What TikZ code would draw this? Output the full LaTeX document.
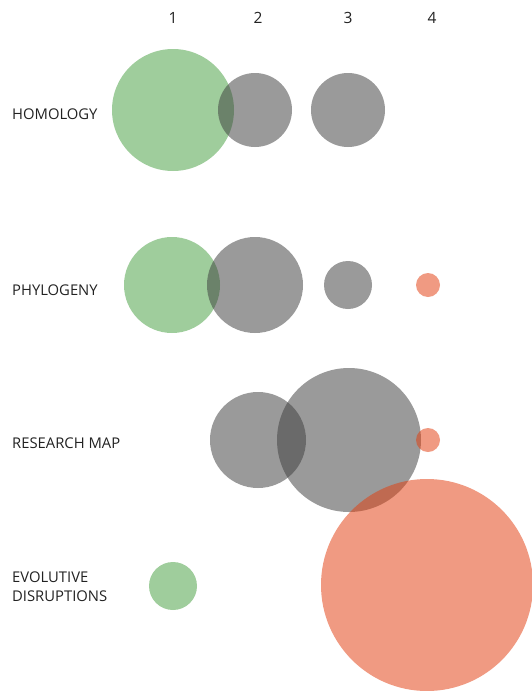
\documentclass[tikz,border=0pt]{standalone}
\usepackage{fontspec}
\setmainfont{Open Sans}
\definecolor{ink}{HTML}{222222}
\definecolor{gbase}{RGB}{72,160,66}
\definecolor{kbase}{RGB}{63,63,63}
\definecolor{sbase}{RGB}{226,63,17}
\tikzset{
  bub/.style={circle, inner sep=0pt, draw=none, fill opacity=0.525},
  green bub/.style={bub, fill=gbase},
  grey bub/.style={bub, fill=kbase},
  salmon bub/.style={bub, fill=sbase},
  rowlabel/.style={anchor=west, text=ink, font=\fontsize{14.8}{19}\selectfont, align=left, inner sep=0pt},
  colhead/.style={text=ink, font=\fontsize{15.5}{16}\selectfont, inner sep=0pt}
}
\begin{document}
\begin{tikzpicture}[x=1pt, y=-1pt]
  \useasboundingbox (0,0) rectangle (531,691);
  % column headings
  \node[colhead] (c1) at (173,18) {1};
  \node[colhead] (c2) at (258,18) {2};
  \node[colhead] (c3) at (348,18) {3};
  \node[colhead] (c4) at (432,18) {4};
  % row labels
  \node[rowlabel] (r1) at (12,114) {HOMOLOGY};
  \node[rowlabel] (r2) at (12,290) {PHYLOGENY};
  \node[rowlabel] (r3) at (12,443) {RESEARCH MAP};
  \node[rowlabel] (r4) at (12,587) {EVOLUTIVE\\DISRUPTIONS};
  % homology
  \node[green bub, minimum size=122pt] (h1) at (173,110) {};
  \node[grey bub, minimum size=74pt] (h2) at (255,110) {};
  \node[grey bub, minimum size=74pt] (h3) at (348,110) {};
  % phylogeny
  \node[green bub, minimum size=96pt] (p1) at (172,285) {};
  \node[grey bub, minimum size=96pt] (p2) at (255,285) {};
  \node[grey bub, minimum size=48pt] (p3) at (348,285) {};
  \node[salmon bub, minimum size=24pt] (p4) at (428,285) {};
  % research map
  \node[grey bub, minimum size=96pt] (m2) at (258,440) {};
  \node[grey bub, minimum size=144pt] (m3) at (349,440) {};
  \node[salmon bub, minimum size=24pt] (m4) at (428,440) {};
  % evolutive disruptions
  \node[green bub, minimum size=48pt] (e1) at (173,586) {};
  \node[salmon bub, minimum size=212pt] (e4) at (427,585) {};
\end{tikzpicture}
\end{document}
